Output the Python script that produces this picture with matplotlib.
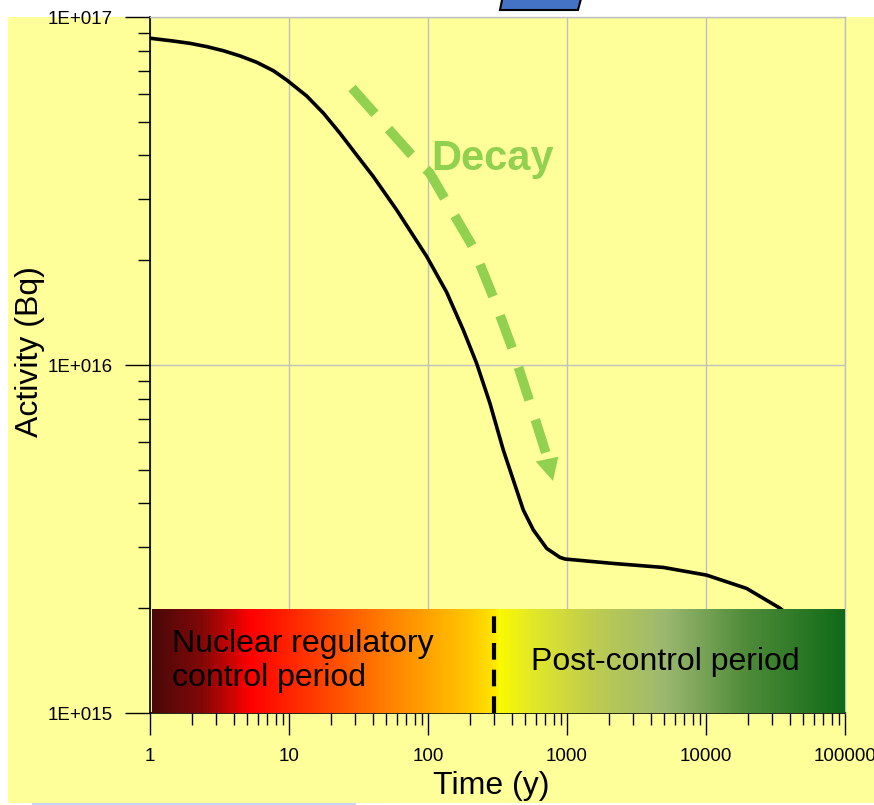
import matplotlib
matplotlib.use("Agg")
import matplotlib.pyplot as plt
from matplotlib.colors import LinearSegmentedColormap
from matplotlib.patches import Polygon, Rectangle
import numpy as np

# Activity curve (time in years, activity in Bq)
time_y = [1, 1.47, 1.94, 2.56, 3.37, 4.44, 5.86, 7.71, 9.63, 13.4, 17.7,
          23.3, 30.7, 40.4, 59.5, 97.9, 136, 179.5, 224, 279, 348, 411,
          485, 572, 715, 890, 967, 2150, 4930, 10100, 19600, 34100, 100000]
activity_bq = [8.69e16, 8.53e16, 8.40e16, 8.22e16, 8.00e16, 7.73e16, 7.41e16,
               7.01e16, 6.59e16, 5.93e16, 5.29e16, 4.63e16, 4.01e16, 3.48e16,
               2.79e16, 2.05e16, 1.62e16, 1.26e16, 1.01e16, 7.76e15, 5.70e15,
               4.67e15, 3.83e15, 3.36e15, 2.97e15, 2.80e15, 2.77e15, 2.69e15,
               2.62e15, 2.49e15, 2.28e15, 2.00e15, 1.4e15]

x_ticks = [1, 10, 100, 1000, 10000, 100000]
x_tick_labels = ["1", "10", "100", "1000", "10000", "100000"]
y_ticks = [1e15, 1e16, 1e17]
y_tick_labels = ["1E+015", "1E+016", "1E+017"]

control_end_year = 300
period_labels = ["Nuclear regulatory\ncontrol period", "Post-control period"]

# "Decay" arrow path (annotation only)
decay_path_x = [28.4, 74.3, 103, 211, 294, 409, 542, 718]
decay_path_y = [6.25e16, 4.06e16, 3.56e16, 2.18e16, 1.57e16, 1.10e16, 7.78e15, 5.45e15]
decay_head = [(596, 5.28e15), (866, 5.45e15), (793, 4.64e15)]

YELLOW = "#FFFF99"
GREEN = "#92D050"
FONT = "Liberation Sans"


def make_figure():
    plt.rcParams['font.family'] = [FONT, 'DejaVu Sans']
    fig = plt.figure(figsize=(8.74, 8.05), dpi=100)
    W, H = 874, 805

    # slide-style yellow backdrop and the bit of blue shape poking in at the top
    fig.patches.append(Rectangle((8 / W, 2 / H), 1 - 8 / W, (803 - 17) / H,
                                 transform=fig.transFigure, facecolor=YELLOW,
                                 edgecolor='none', zorder=-10))
    blue = [(500, 10), (578, 10), (582, -5), (503, -5)]
    fig.patches.append(Polygon([(x / W, 1 - y / H) for x, y in blue], closed=True,
                               transform=fig.transFigure, facecolor="#4472C4",
                               edgecolor='black', linewidth=1.5, zorder=1))
    fig.lines.append(plt.Line2D([33 / W, 355 / W], [1.5 / H, 1.5 / H],
                                transform=fig.transFigure, color="#C5D5F5", lw=1.5,
                                zorder=-5))

    ax = fig.add_axes([150 / W, 92 / H, 695 / W, 696 / H])
    ax.set_facecolor('none')
    ax.set_xscale('log')
    ax.set_yscale('log')
    ax.set_xlim(1, 100000)
    ax.set_ylim(1e15, 1e17)
    ax.set_autoscale_on(False)
    return fig, ax


def style_axes(ax):
    ax.set_xticks(x_ticks, x_tick_labels)
    ax.set_yticks(y_ticks, y_tick_labels)
    ax.xaxis.set_minor_locator(matplotlib.ticker.LogLocator(base=10, subs=np.arange(2, 10)))
    ax.yaxis.set_minor_locator(matplotlib.ticker.LogLocator(base=10, subs=np.arange(2, 10)))
    ax.xaxis.set_minor_formatter(matplotlib.ticker.NullFormatter())
    ax.yaxis.set_minor_formatter(matplotlib.ticker.NullFormatter())

    ax.tick_params(axis='x', which='major', length=16, width=1, pad=9, labelsize=13.5)
    ax.tick_params(axis='x', which='minor', length=8.6, width=1)
    ax.tick_params(axis='y', which='major', length=18, width=1, pad=8.5, labelsize=13.5)
    ax.tick_params(axis='y', which='minor', length=9, width=1)

    ax.grid(True, which='major', color='#C0C0C0', linewidth=1)
    for side in ['top', 'right']:
        ax.spines[side].set_color('#C0C0C0')
        ax.spines[side].set_linewidth(1)
    for side in ['left', 'bottom']:
        ax.spines[side].set_color('black')
        ax.spines[side].set_linewidth(1.2)

    ax.set_xlabel("Time (y)", fontsize=23)
    ax.xaxis.set_label_coords(0.491, -0.105)
    ax.xaxis.label.set_verticalalignment('center')
    ax.set_ylabel("Activity (Bq)", fontsize=23)
    ax.yaxis.set_label_coords(-0.172, 0.52)
    ax.yaxis.label.set_verticalalignment('center')
    ax.yaxis.label.set_horizontalalignment('center')


def draw_period_bar(ax):
    stops = [(0.0, "#4A0808"), (0.07, "#800808"), (0.141, "#FF0000"),
             (0.34, "#FF8000"), (0.46, "#FFC800"), (0.496, "#FFE800"),
             (0.501, "#FAFA00"), (0.55, "#E2E828"), (0.64, "#BECC50"),
             (0.742, "#9CB870"), (0.857, "#508C3A"), (1.0, "#106A18")]
    cmap = LinearSegmentedColormap.from_list("periods", stops)
    bar = ax.inset_axes([2 / 695, 0, 1 - 2 / 695, 104 / 696])
    bar.imshow(np.linspace(0, 1, 512)[None, :], cmap=cmap, aspect='auto',
               extent=[0, 1, 0, 1])
    bar.set_axis_off()

    bar.text(0.029, 0.5, period_labels[0], fontsize=23, va='center', ha='left',
             linespacing=1.15)
    bar.text(0.74, 0.49, period_labels[1], fontsize=23, va='center', ha='center')

    ax.plot([control_end_year, control_end_year], [1e15, 1.97e15], color='black',
            lw=3, linestyle=(0, (4, 2.4)), zorder=6, solid_capstyle='butt',
            dash_capstyle='butt')


def draw_decay_arrow(ax):
    ax.plot(decay_path_x, decay_path_y, color=GREEN, lw=7,
            linestyle=(0, (3.55, 2.1)), dash_capstyle='butt', zorder=3)
    ax.add_patch(Polygon(decay_head, closed=True, facecolor=GREEN,
                         edgecolor='none', zorder=3))
    ax.text(105, 3.63e16, "Decay", color=GREEN, fontsize=30, fontweight='bold',
            ha='left', va='baseline', zorder=3)


def main():
    fig, ax = make_figure()
    style_axes(ax)
    ax.plot(time_y, activity_bq, color='black', lw=2.6, zorder=2,
            solid_joinstyle='round')
    draw_decay_arrow(ax)
    draw_period_bar(ax)
    fig.savefig("out.png", dpi=100)


if __name__ == "__main__":
    main()
